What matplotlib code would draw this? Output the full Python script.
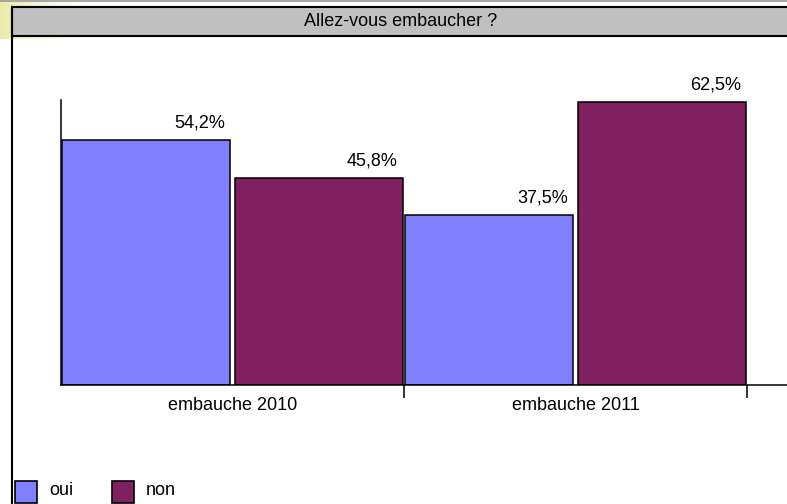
import matplotlib

matplotlib.use("Agg")
import matplotlib.pyplot as plt
import numpy as np
from matplotlib.patches import Rectangle

plt.rcParams["font.family"] = ["Liberation Sans", "DejaVu Sans"]

# données
title = "Allez-vous embaucher ?"
categories = ["embauche 2010", "embauche 2011"]
series = ["oui", "non"]
oui = [54.2, 37.5]
non = [45.8, 62.5]
colors = ["#8080FF", "#802060"]

W, H = 787, 504
FS = 12.96  # 18 px à 100 dpi

fig = plt.figure(figsize=(W / 100, H / 100), dpi=100)
fig.patch.set_facecolor("white")

# calque en coordonnées pixels pour le cadre, le titre et la légende
deco = fig.add_axes([0, 0, 1, 1], zorder=0)
deco.axis("off")

# dégradé jaune en haut à gauche
grad = np.linspace(1, 0, 100) ** 1.5
rgba = np.zeros((1, 100, 4))
rgba[..., 0] = 236 / 255
rgba[..., 1] = 234 / 255
rgba[..., 2] = 170 / 255
rgba[..., 3] = grad
deco.imshow(rgba, extent=(0, 100, 39, 0), aspect="auto", zorder=0)
deco.set_xlim(0, W)
deco.set_ylim(H, 0)
deco.plot([0, W], [0.5, 0.5], color="#999999", lw=1.2, zorder=1)

# barre de titre
deco.add_patch(Rectangle((12, 7), W, 29, facecolor="#C0C0C0",
                         edgecolor="black", lw=1.5, zorder=2))
deco.plot([12, 12], [7, H], color="black", lw=1.5, zorder=2)
deco.text(401, 22, title, ha="center", va="center", fontsize=FS, zorder=3)

# légende
for i, (name, col) in enumerate(zip(series, colors)):
    x0 = 15 + i * 97
    deco.add_patch(Rectangle((x0, 481), 22, 22, facecolor=col,
                             edgecolor="black", lw=1.2, zorder=2))
    deco.text(x0 + 34, 495, name, ha="left", va="baseline", fontsize=FS, zorder=3)

# graphique
px_per_cat = 343.0
ax = fig.add_axes([61 / W, (H - 385) / H, (W - 61) / W, 285 / H], zorder=1)
ax.set_facecolor("none")
ax.set_xlim(0, (W - 61) / px_per_cat)
ax.set_ylim(0, 285 / 4.528)

x = np.arange(len(categories))
bw = 0.488
for vals, off, col in [(oui, 0.004, colors[0]), (non, 0.508, colors[1])]:
    bars = ax.bar(x + off, vals, width=bw, align="edge", color=col,
                  edgecolor="black", linewidth=1.1, zorder=2)
    for b, v in zip(bars, vals):
        ax.annotate(f"{v:.1f}%".replace(".", ","),
                    (b.get_x() + b.get_width(), v),
                    xytext=(-5, 17), textcoords="offset pixels",
                    ha="right", va="center", fontsize=FS)

for s in ["top", "right"]:
    ax.spines[s].set_visible(False)
ax.spines["left"].set_linewidth(1.1)
ax.spines["bottom"].set_linewidth(1.1)

ax.set_yticks([])
ax.set_xticks([1, 2])
ax.set_xticklabels([])
ax.tick_params(axis="x", which="major", length=9.4, width=1.1, direction="out")
ax.set_xticks(x + 0.5, minor=True)
ax.set_xticklabels(categories, minor=True, fontsize=FS)
ax.tick_params(axis="x", which="minor", length=0, pad=8.5)

fig.savefig("out.png", dpi=100)
